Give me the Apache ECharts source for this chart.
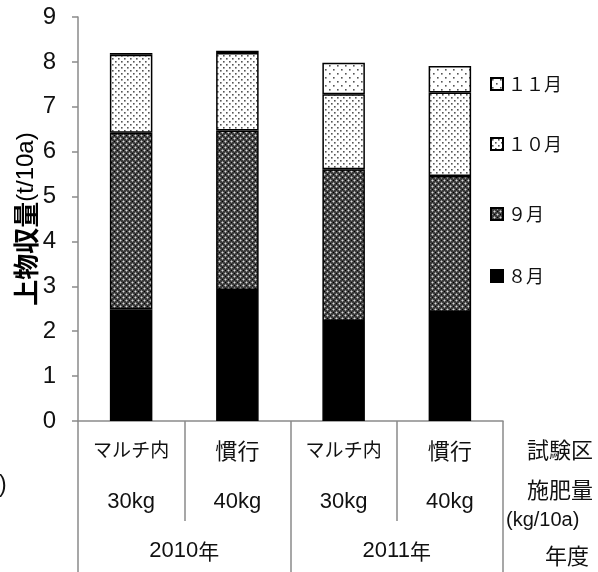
<!DOCTYPE html>
<html>
<head>
<meta charset="utf-8">
<script src="https://cdn.jsdelivr.net/npm/echarts@6/dist/echarts.min.js"></script>
<style>
html,body{margin:0;padding:0;background:#fff;}
#chart{width:598px;height:572px;}
</style>
</head>
<body>
<div id="chart"></div>
<script>
// 試験区・施肥量・年度
const plots = ['マルチ内', '慣行', 'マルチ内', '慣行'];
const fertilizer = ['30kg', '40kg', '30kg', '40kg'];
const years = ['2010年', '2011年'];
const yTicks = [0, 1, 2, 3, 4, 5, 6, 7, 8, 9];

// 月別の上物収量 (t/10a)
const aug = [2.49, 2.92, 2.23, 2.43];
const sep = [3.93, 3.55, 3.38, 3.03];
const oct = [1.74, 1.73, 1.67, 1.86];
const nov = [0.04, 0.05, 0.70, 0.59];

const JP = '"Noto Sans CJK JP", "Noto Sans", sans-serif';
const LAT = '"Liberation Sans", Arial, sans-serif';

// hatch tiles for the month fills
function tile(size, draw) {
  const c = document.createElement('canvas');
  c.width = c.height = size;
  const ctx = c.getContext('2d');
  draw(ctx);
  return c;
}
const px = (ctx, col, pts, s) => { ctx.fillStyle = col; pts.forEach(p => ctx.fillRect(p[0], p[1], s || 1, s || 1)); };

const sepTile = tile(6, ctx => {
  ctx.fillStyle = '#3c3c3c'; ctx.fillRect(0, 0, 6, 6);
  px(ctx, '#d8d8d8', [[0, 0], [3, 3]]);
  px(ctx, '#8c8c8c', [[1, 0], [0, 1], [5, 0], [0, 5], [4, 3], [3, 4], [2, 3], [3, 2]]);
  px(ctx, '#000', [[0, 3], [3, 0]]);
});
const octTile = tile(6, ctx => {
  ctx.fillStyle = '#fff'; ctx.fillRect(0, 0, 6, 6);
  px(ctx, '#555', [[1, 1], [4, 4]], 1.6);
});
const novTile = tile(8, ctx => {
  ctx.fillStyle = '#fff'; ctx.fillRect(0, 0, 8, 8);
  px(ctx, '#555', [[1, 1], [5, 5]], 1.6);
});

function barSeries(name, data, fill) {
  return {
    name: name, type: 'bar', stack: 'total', data: data, barWidth: '40%',
    xAxisIndex: 0,
    itemStyle: { color: fill, borderColor: '#000', borderWidth: 1.5 },
    emphasis: { disabled: true }
  };
}

const legendTops = { '８月': 262, '９月': 200, '１０月': 130, '１１月': 70 };
const legends = Object.keys(legendTops).map(n => ({
  data: [n], left: 485, top: legendTops[n], itemWidth: 12, itemHeight: 12, itemGap: 10,
  icon: 'rect', selectedMode: false,
  textStyle: { fontFamily: JP, fontSize: 18, color: '#111' }
}));

const axisGray = { color: '#8a8a8a', width: 1.5 };

const chart = echarts.init(document.getElementById('chart'), null, { renderer: 'canvas' });
chart.setOption({
  animation: false,
  backgroundColor: '#fff',
  grid: { left: 78, right: 95, top: 17, bottom: 151, containLabel: false },
  legend: legends,
  xAxis: [
    {
      type: 'category', data: plots, position: 'bottom',
      axisLine: { show: true, lineStyle: axisGray },
      axisTick: { show: true, length: 100, lineStyle: axisGray },
      axisLabel: {
        margin: 19, color: '#111',
        formatter: v => v === 'マルチ内' ? '{k|' + v + '}' : '{c|' + v + '}',
        rich: {
          k: { fontFamily: JP, fontSize: 19, color: '#111' },
          c: { fontFamily: JP, fontSize: 22, color: '#111' }
        }
      }
    },
    {
      type: 'category', data: fertilizer, position: 'bottom',
      axisLine: { show: false }, axisTick: { show: false },
      axisLabel: { margin: 70, fontFamily: LAT, fontSize: 22, color: '#111' }
    },
    {
      type: 'category', data: years, position: 'bottom',
      axisLine: { show: false },
      axisTick: { show: true, length: 151, lineStyle: axisGray },
      axisLabel: {
        margin: 119, color: '#111',
        formatter: v => '{d|' + v.slice(0, 4) + '}{y|' + v.slice(4) + '}',
        rich: {
          d: { fontFamily: LAT, fontSize: 22, color: '#111' },
          y: { fontFamily: JP, fontSize: 21, color: '#111' }
        }
      }
    }
  ],
  yAxis: {
    type: 'value', min: 0, max: 9, interval: 1,
    axisLine: { show: true, lineStyle: axisGray },
    axisTick: { show: true, length: 6, lineStyle: axisGray },
    splitLine: { show: false },
    axisLabel: {
      margin: 22, fontFamily: LAT, fontSize: 24, color: '#111',
      formatter: v => yTicks.indexOf(v) >= 0 ? String(v) : ''
    },
    name: '{b|上物収量}{n|(t/10a)}',
    nameLocation: 'middle', nameRotate: 90, nameGap: 39, nameMoveOverlap: false,
    nameTextStyle: {
      rich: {
        b: { fontFamily: JP, fontSize: 26, fontWeight: 'bold', color: '#000' },
        n: { fontFamily: LAT, fontSize: 24, color: '#000' }
      }
    }
  },
  series: [
    barSeries('８月', aug, '#000'),
    barSeries('９月', sep, { image: sepTile, repeat: 'repeat' }),
    barSeries('１０月', oct, { image: octTile, repeat: 'repeat' }),
    barSeries('１１月', nov, { image: novTile, repeat: 'repeat' })
  ],
  graphic: [
    { type: 'text', left: 527, top: 439, style: { text: '試験区', font: '22px ' + JP, fill: '#111' } },
    { type: 'text', left: 527, top: 479, style: { text: '施肥量', font: '22px ' + JP, fill: '#111' } },
    { type: 'text', left: 506, top: 510, style: { text: '(kg/10a)', font: '20px ' + LAT, fill: '#111' } },
    { type: 'text', left: 545, top: 545, style: { text: '年度', font: '22px ' + JP, fill: '#111' } },
    { type: 'text', left: -1, top: 474, style: { text: ')', font: '23px ' + LAT, fill: '#111' } }
  ]
});
</script>
</body>
</html>
